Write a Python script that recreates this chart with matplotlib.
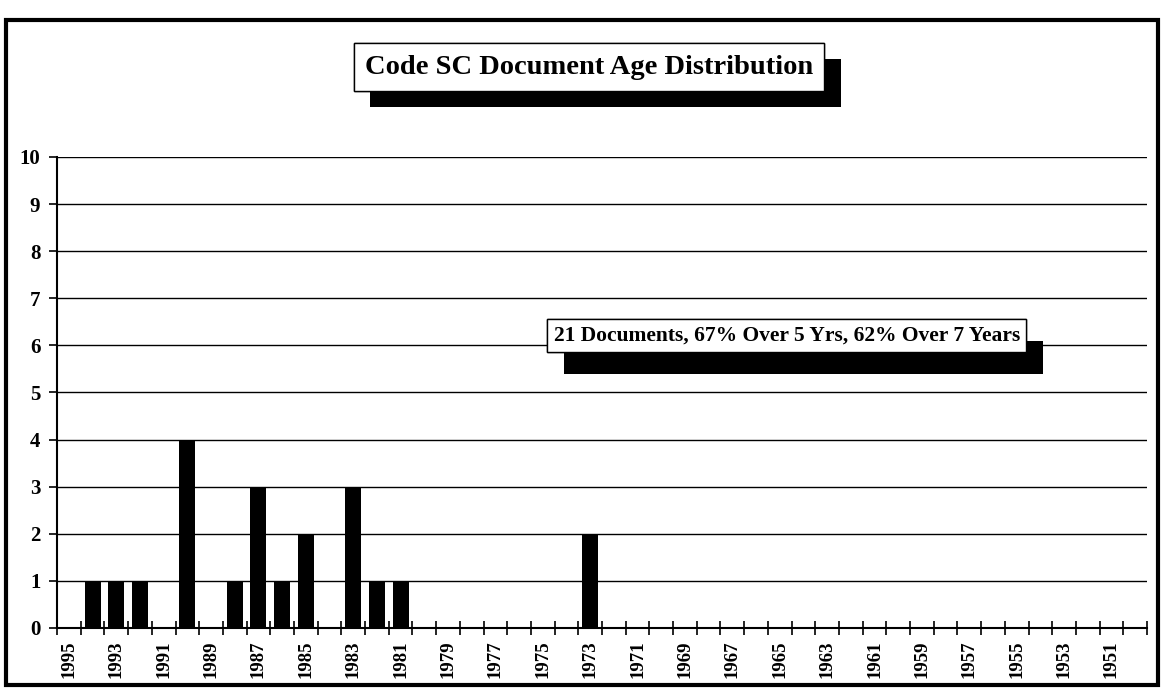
import matplotlib.pyplot as plt
import matplotlib.patheffects as pe
from matplotlib.patches import Rectangle

plt.rcParams['font.family'] = ['Liberation Serif', 'DejaVu Serif']
plt.rcParams['font.weight'] = 'bold'

# category years run from 1995 back to 1950
years = list(range(1995, 1949, -1))
label_years = years[::2]

# years that have documents, and how many
bar_years = [1994, 1993, 1992, 1990, 1988, 1987, 1986, 1985, 1983, 1982, 1981, 1973]
bar_counts = [1, 1, 1, 4, 1, 3, 1, 2, 3, 1, 1, 2]

title = 'Code SC Document Age Distribution'
note = '21 Documents, 67% Over 5 Yrs, 62% Over 7 Years'

fig = plt.figure(figsize=(11.64, 7), dpi=100)
ax = fig.add_axes([0.049, 0.1029, 0.9364, 0.6729])

pos = [years.index(y) + 0.5 for y in bar_years]
ax.bar(pos, bar_counts, width=0.68, color='black', zorder=3)

ax.set_xlim(0, len(years))
ax.set_ylim(0, 10)
ax.set_yticks(range(0, 11))
ax.yaxis.grid(True, color='black', linewidth=1.0)
ax.set_axisbelow(True)

# labels centred on every other category, tick marks at boundaries
ax.set_xticks([years.index(y) + 0.5 for y in label_years])
ax.set_xticklabels([str(y) for y in label_years], rotation=90, fontsize=13.5, fontweight='bold')
ax.set_xticks(range(0, len(years) + 1), minor=True)
ax.tick_params(axis='x', which='major', length=0, pad=9)
ax.tick_params(axis='x', which='minor', direction='inout', length=10, width=1.2, color='black')
ax.tick_params(axis='y', direction='out', length=6, width=1.2, labelsize=15, pad=6)
for lab in ax.get_yticklabels():
    lab.set_fontweight('bold')

ax.spines['top'].set_visible(False)
ax.spines['right'].set_visible(False)
ax.spines['left'].set_linewidth(1.5)
ax.spines['bottom'].set_linewidth(1.5)

t1 = fig.text(0.506, 0.904, title, ha='center', va='center', fontsize=20.5, fontweight='bold',
              bbox=dict(boxstyle='square,pad=0.4', facecolor='white', edgecolor='black', linewidth=1))
t1.get_bbox_patch().set_path_effects([
    pe.withSimplePatchShadow(offset=(12, -11.5), shadow_rgbFace='black', alpha=1.0), pe.Normal()])

t2 = fig.text(0.676, 0.521, note, ha='center', va='center', fontsize=15.5, fontweight='bold', zorder=5,
              bbox=dict(boxstyle='square,pad=0.3', facecolor='white', edgecolor='black', linewidth=1))
t2.get_bbox_patch().set_path_effects([
    pe.withSimplePatchShadow(offset=(12, -16), shadow_rgbFace='black', alpha=1.0), pe.Normal()])

# outer frame around the whole chart
fig.patches.append(Rectangle((0.005, 0.021), 0.99, 0.95, transform=fig.transFigure,
                             fill=False, edgecolor='black', linewidth=3))

fig.savefig('out.png', dpi=100)
